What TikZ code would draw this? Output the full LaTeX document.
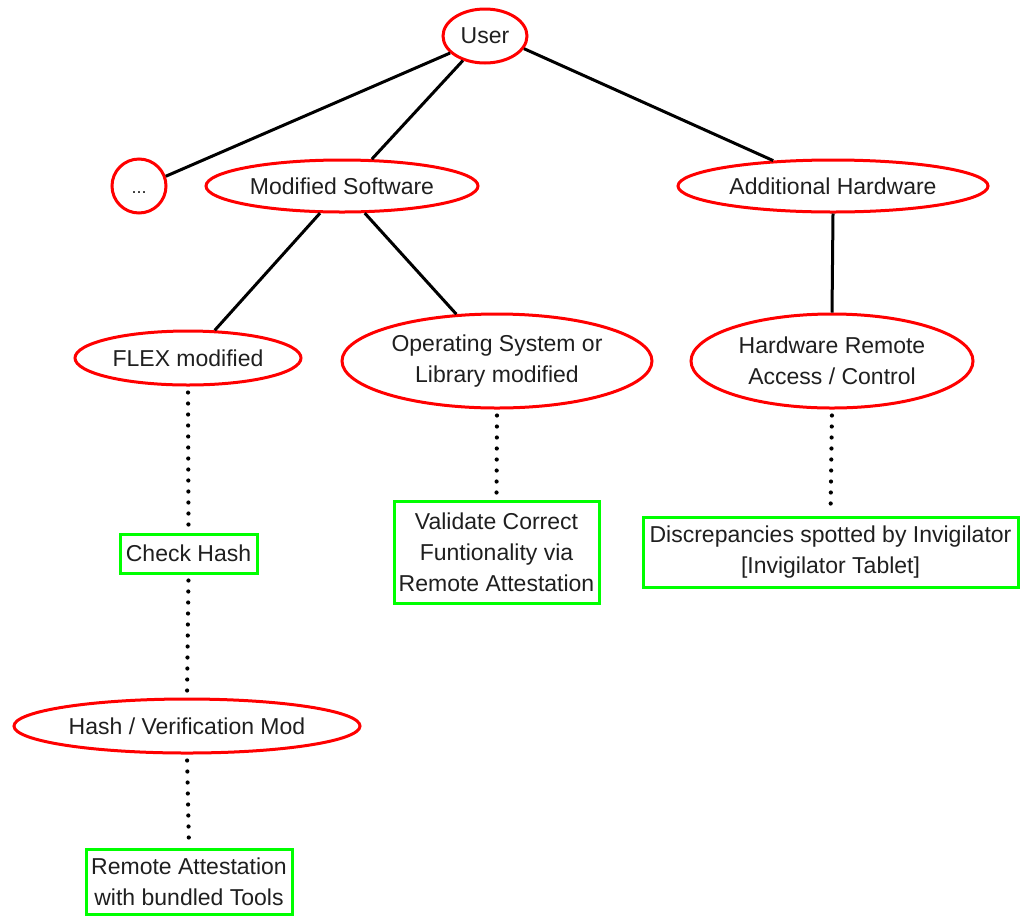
\documentclass[tikz,border=0pt]{standalone}
\usepackage{fontspec}
\setmainfont{Liberation Sans}
\usetikzlibrary{shapes.geometric}
\tikzset{
    threat/.style={ellipse, draw=red, line width=1.5pt, inner sep=0pt, align=center, text=black!88},
    counter/.style={rectangle, draw=green, line width=1.5pt, inner sep=0pt, align=center, text=black!88},
    tie/.style={line width=1.5pt},
    dotlink/.style={line width=2.1pt, line cap=round, dash pattern=on 0pt off 5.5pt, shorten <=3pt, shorten >=3pt}
}
\begin{document}
\begin{tikzpicture}[x=0.5pt, y=-0.5pt, font=\fontsize{11.5}{15.5}\selectfont]
        \useasboundingbox (0,0) rectangle (1020,916);
        % attack tree
        \node[threat, minimum width=42pt, minimum height=27pt] (user) at (485,36) {User};
        \node[circle, draw=red, line width=1.5pt, minimum size=27pt, inner sep=0pt] (etc) at (139,186) {};
        \node[font=\fontsize{9}{10}\selectfont, text=black!88] (etcdots) at (139,193) {...};
        \node[threat, minimum width=136pt, minimum height=26pt] (modsw) at (342,186) {Modified Software};
        \node[threat, minimum width=155pt, minimum height=26pt] (addhw) at (833,186) {Additional Hardware};
        \node[threat, minimum width=113pt, minimum height=27pt] (flex) at (188,358) {FLEX modified};
        \node[threat, minimum width=155pt, minimum height=47pt] (os) at (497,361) {Operating System or\\Library modified};
        \node[threat, minimum width=141pt, minimum height=47pt] (hwra) at (832,361) {Hardware Remote\\Access / Control};
        \node[threat, minimum width=173pt, minimum height=27pt] (hashmod) at (187,726) {Hash / Verification Mod};
        % countermeasures
        \node[counter, minimum width=68.5pt, minimum height=19.5pt] (checkhash) at (188.5,553.5) {Check Hash};
        \node[counter, minimum width=102.5pt, minimum height=51pt] (validate) at (496.5,552) {Validate Correct\\Funtionality via\\Remote Attestation};
        \node[counter, minimum width=187.5pt, minimum height=35pt] (discr) at (830.5,552) {Discrepancies spotted by Invigilator\\{}[Invigilator Tablet]};
        \node[counter, minimum width=103pt, minimum height=32.5pt] (remote) at (189,881.5) {Remote Attestation\\with bundled Tools};
        \draw[tie] (user.206) -- (etc.20);
        \draw[tie] (user.228) -- (modsw.42);
        \draw[tie] (user.-18) -- (addhw.157);
        \draw[tie] (modsw.231) -- (flex.46);
        \draw[tie] (modsw.-50) -- (os.131);
        \draw[tie] (addhw.south) -- (hwra.north);
        \draw[dotlink] (flex.south) -- (checkhash.north);
        \draw[dotlink] (checkhash.south) -- (hashmod.north);
        \draw[dotlink] (hashmod.south) -- (remote.north);
        \draw[dotlink] (os.south) -- (validate.north);
        \draw[dotlink] (hwra.south) -- (discr.north);
    \end{tikzpicture}
\end{document}
